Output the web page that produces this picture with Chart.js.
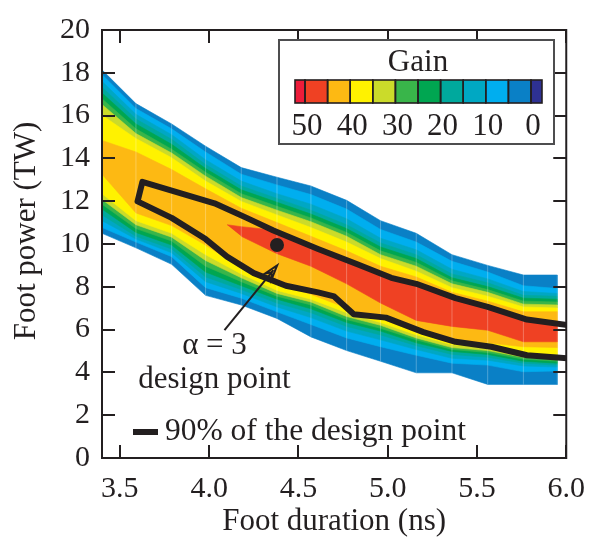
<!DOCTYPE html>
<html>
<head>
<meta charset="utf-8">
<script src="https://cdn.jsdelivr.net/npm/chart.js@4.4.0/dist/chart.umd.min.js"></script>
<style>
  html, body { margin: 0; padding: 0; background: #ffffff; }
  #wrap { width: 598px; height: 540px; }
</style>
</head>
<body>
<div id="wrap"><canvas id="gainMap" width="598" height="540"></canvas></div>
<script>
// Foot duration sample columns (ns)
const duration = [3.40, 3.59, 3.79, 3.98, 4.18, 4.38, 4.57, 4.77, 4.96, 5.16, 5.36, 5.56, 5.76, 5.95];

// Gain contour levels; each row of bandTop / bandBottom gives, per column,
// the upper and lower foot power (TW) of the region where gain >= level.
const gainLevels = [0, 5, 10, 15, 20, 25, 30, 35, 40, 45];
const levelColors = ['#0A80C6', '#00AEEF', '#00A7C4', '#00A99D', '#00A651',
                     '#39B54A', '#CBDB2A', '#FFF200', '#FDB913', '#EF4123'];

const bandTop = [
  [18.14, 16.56, 15.61, 14.57, 13.57, 13.12, 12.71, 12.04, 11.09, 10.50, 9.50, 9.00, 8.55, 8.55],
  [17.92, 16.33, 15.38, 14.30, 13.26, 12.76, 12.31, 11.63, 10.68, 10.09, 9.19, 8.69, 8.05, 7.92],
  [17.60, 16.06, 15.11, 13.94, 12.94, 12.35, 11.86, 11.18, 10.27, 9.73, 8.82, 8.37, 7.78, 7.69],
  [17.33, 15.84, 14.89, 13.71, 12.71, 12.13, 11.58, 10.90, 10.05, 9.50, 8.60, 8.19, 7.60, 7.56],
  [17.06, 15.61, 14.66, 13.53, 12.53, 11.95, 11.40, 10.72, 9.86, 9.32, 8.42, 8.01, 7.47, 7.42],
  [16.79, 15.38, 14.43, 13.35, 12.35, 11.76, 11.22, 10.54, 9.68, 9.14, 8.28, 7.87, 7.33, 7.29],
  [16.52, 15.16, 14.25, 13.17, 12.17, 11.58, 11.04, 10.36, 9.50, 8.96, 8.14, 7.74, 7.19, 7.15],
  [16.02, 14.93, 14.03, 12.94, 11.99, 11.36, 10.77, 10.09, 9.32, 8.73, 7.96, 7.56, 7.06, 7.01],
  [14.84, 14.30, 13.48, 12.58, 11.67, 11.00, 10.36, 9.68, 8.96, 8.46, 7.74, 7.33, 6.83, 6.83],
  [null, null, null, null, 10.81, 10.63, 9.86, 9.23, 8.60, 8.14, 7.51, 7.06, 6.47, 6.15]
];
const bandBottom = [
  [10.50, 9.82, 9.05, 7.60, 7.15, 6.52, 5.66, 5.02, 4.52, 3.98, 3.98, 3.44, 3.44, 3.44],
  [10.77, 10.09, 9.41, 7.96, 7.47, 6.83, 6.24, 5.61, 5.20, 4.80, 4.43, 4.34, 4.03, 4.07],
  [11.09, 10.23, 9.59, 8.24, 7.69, 7.06, 6.56, 5.93, 5.52, 5.07, 4.66, 4.57, 4.30, 4.25],
  [11.36, 10.36, 9.77, 8.46, 7.87, 7.24, 6.79, 6.15, 5.75, 5.25, 4.84, 4.71, 4.43, 4.34],
  [11.63, 10.54, 9.95, 8.69, 8.05, 7.42, 6.97, 6.33, 5.93, 5.38, 4.98, 4.84, 4.52, 4.43],
  [11.86, 10.72, 10.14, 8.96, 8.24, 7.56, 7.15, 6.47, 6.06, 5.52, 5.07, 4.93, 4.62, 4.52],
  [12.08, 10.90, 10.32, 9.23, 8.42, 7.69, 7.29, 6.61, 6.20, 5.61, 5.16, 5.02, 4.71, 4.62],
  [12.35, 11.09, 10.50, 9.50, 8.60, 7.83, 7.42, 6.79, 6.33, 5.75, 5.29, 5.16, 4.89, 4.84],
  [13.26, 11.45, 10.86, 9.95, 8.87, 8.19, 7.65, 7.01, 6.52, 5.88, 5.43, 5.38, 5.20, 5.16],
  [null, null, null, null, 10.36, 9.55, 8.96, 8.14, 7.24, 6.43, 6.15, 5.97, 5.43, 5.43]
];
// left tip of the highest gain region (duration, power)
const peakTip = [4.10, 10.90];

// 90% of the design-point gain contour
const contourDur = [6.02, 5.78, 5.56, 5.38, 5.16, 5.02, 4.83, 4.61, 4.36, 4.21, 4.03, 3.626,
                    3.599, 3.79, 3.98, 4.10, 4.25, 4.43, 4.61, 4.70, 4.81, 4.99, 5.20, 5.38, 5.58, 5.78, 6.02];
const contourPow = [6.20, 6.47, 7.06, 7.47, 8.14, 8.42, 9.05, 9.77, 10.63, 11.22, 11.90, 12.90,
                    11.99, 11.22, 10.23, 9.41, 8.64, 8.05, 7.74, 7.55, 6.72, 6.56, 5.88, 5.43, 5.20, 4.80, 4.65];

// alpha = 3 design point (duration, power)
const designPoint = [4.38, 9.95];

const xTicks = [3.5, 4.0, 4.5, 5.0, 5.5, 6.0];
const xTickLabels = ['3.5', '4.0', '4.5', '5.0', '5.5', '6.0'];
const yTicks = [0, 2, 4, 6, 8, 10, 12, 14, 16, 18, 20];
const yTickLabels = ['0', '2', '4', '6', '8', '10', '12', '14', '16', '18', '20'];

// colour key, from highest gain to lowest
const keyColors = ['#ED1C3A', '#EF4123', '#FDB913', '#FFF200', '#CBDB2A', '#39B54A',
                   '#00A651', '#00A99D', '#00A8C3', '#00AEEF', '#0A80C6', '#2E3192'];
const keyLabels = ['50', '40', '30', '20', '10', '0'];

const ink = '#231F20';
const serif = '"Liberation Serif", "Times New Roman", serif';

// closed outline of each gain region
const bandDatasets = gainLevels.map((level, i) => {
  const top = [];
  const bottom = [];
  duration.forEach((d, j) => {
    if (bandTop[i][j] !== null) top.push({ x: d, y: bandTop[i][j] });
    if (bandBottom[i][j] !== null) bottom.push({ x: d, y: bandBottom[i][j] });
  });
  const pts = [];
  if (i === gainLevels.length - 1) pts.push({ x: peakTip[0], y: peakTip[1] });
  pts.push(...top, ...bottom.reverse());
  return {
    label: 'gain ≥ ' + level,
    data: pts,
    fill: 'shape',
    backgroundColor: levelColors[i],
    borderColor: levelColors[i],
    borderWidth: 0.6,
    pointRadius: 0,
    tension: 0,
    order: 100 - i
  };
});

// faint sampling-mesh lines along each duration column
const meshDatasets = duration.slice(1).map((d, k) => ({
  label: 'mesh ' + d,
  data: [{ x: d, y: bandBottom[0][k + 1] }, { x: d, y: bandTop[0][k + 1] }],
  fill: false,
  borderColor: 'rgba(255,255,255,0.28)',
  borderWidth: 1,
  pointRadius: 0,
  order: 50
}));

const contourDataset = {
  label: '90% of the design point',
  data: contourDur.map((d, i) => ({ x: d, y: contourPow[i] })),
  fill: false,
  borderColor: ink,
  borderWidth: 6,
  borderJoinStyle: 'round',
  borderCapStyle: 'round',
  pointRadius: 0,
  tension: 0,
  order: 2
};

const designDataset = {
  label: 'design point',
  data: [{ x: designPoint[0], y: designPoint[1] }],
  showLine: false,
  pointRadius: 7,
  pointBackgroundColor: ink,
  pointBorderWidth: 0,
  order: 1
};

function text(ctx, str, x, y, size, align) {
  ctx.font = size + 'px ' + serif;
  ctx.fillStyle = ink;
  ctx.textAlign = align || 'center';
  ctx.textBaseline = 'middle';
  ctx.fillText(str, x, y);
}

const decor = {
  id: 'decor',
  afterDatasetsDraw(chart) {
    const { ctx, chartArea: a, scales: { x, y } } = chart;
    ctx.save();
    ctx.strokeStyle = ink;
    ctx.lineCap = 'butt';

    // arrow to the design point
    const x0 = x.getPixelForValue(4.086), y0 = y.getPixelForValue(5.97);
    const x1 = x.getPixelForValue(4.381), y1 = y.getPixelForValue(9.0);
    const ang = Math.atan2(y1 - y0, x1 - x0);
    ctx.lineWidth = 2;
    ctx.beginPath();
    ctx.moveTo(x0, y0);
    ctx.lineTo(x1 - 6 * Math.cos(ang), y1 - 6 * Math.sin(ang));
    ctx.stroke();
    const hl = 15, hw = 0.3;
    ctx.beginPath();
    ctx.moveTo(x1 - hl * Math.cos(ang - hw), y1 - hl * Math.sin(ang - hw));
    ctx.lineTo(x1, y1);
    ctx.lineTo(x1 - hl * Math.cos(ang + hw), y1 - hl * Math.sin(ang + hw));
    ctx.lineTo(x1 - 9 * Math.cos(ang), y1 - 9 * Math.sin(ang));
    ctx.closePath();
    ctx.stroke();

    // frame
    ctx.lineWidth = 2;
    ctx.strokeRect(a.left, a.top, a.right - a.left, a.bottom - a.top);
    // inward ticks on all four sides
    const tl = 13;
    ctx.beginPath();
    xTicks.forEach(v => {
      const px = Math.round(x.getPixelForValue(v));
      ctx.moveTo(px, a.bottom); ctx.lineTo(px, a.bottom - tl);
      ctx.moveTo(px, a.top); ctx.lineTo(px, a.top + tl);
    });
    yTicks.forEach(v => {
      const py = Math.round(y.getPixelForValue(v));
      ctx.moveTo(a.left, py); ctx.lineTo(a.left + tl, py);
      ctx.moveTo(a.right, py); ctx.lineTo(a.right - tl, py);
    });
    ctx.stroke();
    ctx.restore();
  },
  afterDraw(chart) {
    const { ctx, chartArea: a, scales: { x, y } } = chart;
    ctx.save();

    // axis titles
    text(ctx, 'Foot duration (ns)', (a.left + a.right) / 2, 522, 31);
    ctx.save();
    ctx.translate(27, 231);
    ctx.rotate(-Math.PI / 2);
    text(ctx, 'Foot power (TW)', 0, 0, 31);
    ctx.restore();

    // design point annotation
    text(ctx, 'α = 3', x.getPixelForValue(4.03), y.getPixelForValue(5.25), 31);
    text(ctx, 'design point', x.getPixelForValue(4.03), y.getPixelForValue(3.67), 31);

    // contour key
    ctx.strokeStyle = ink;
    ctx.lineWidth = 6;
    ctx.beginPath();
    ctx.moveTo(133, 432); ctx.lineTo(158, 432);
    ctx.stroke();
    text(ctx, '90% of the design point', 165, 432, 31.5, 'left');

    // gain colour key
    ctx.fillStyle = '#ffffff';
    ctx.fillRect(279, 40, 275, 104);
    ctx.strokeStyle = '#4D4D4F';
    ctx.lineWidth = 2;
    ctx.strokeRect(279, 40, 275, 104);
    text(ctx, 'Gain', 418, 63, 31);
    const kTop = 80, kH = 23, step = 22.6, first = 305;
    const edges = [295];
    for (let k = 0; k <= 10; k++) edges.push(first + k * step);
    edges.push(542);
    for (let k = 0; k < keyColors.length; k++) {
      ctx.fillStyle = keyColors[k];
      ctx.fillRect(edges[k], kTop, edges[k + 1] - edges[k], kH);
    }
    ctx.strokeStyle = ink;
    ctx.lineWidth = 1.6;
    for (let k = 0; k < keyColors.length; k++) {
      ctx.strokeRect(edges[k], kTop, edges[k + 1] - edges[k], kH);
    }
    keyLabels.forEach((lab, i) => text(ctx, lab, first + 2 * i * step + 2, 127, 31));
    ctx.restore();
  }
};

new Chart(document.getElementById('gainMap'), {
  type: 'line',
  data: { datasets: [designDataset, contourDataset, ...meshDatasets, ...bandDatasets] },
  options: {
    responsive: false,
    animation: false,
    devicePixelRatio: 1,
    layout: { padding: { top: 16, right: 21, left: 0, bottom: 0 } },
    plugins: { legend: { display: false }, tooltip: { enabled: false } },
    scales: {
      x: {
        type: 'linear', min: 3.4, max: 6.0,
        afterFit(s) { s.height = 82; },
        afterBuildTicks(s) { s.ticks = xTicks.map(v => ({ value: v })); },
        ticks: {
          font: { family: serif, size: 30 }, color: ink, padding: 13,
          maxRotation: 0, autoSkip: false,
          callback: (v, i) => xTickLabels[i]
        },
        grid: { display: false, drawTicks: false },
        border: { display: false }
      },
      y: {
        type: 'linear', min: 0, max: 20,
        afterFit(s) { s.width = 102; },
        afterBuildTicks(s) { s.ticks = yTicks.map(v => ({ value: v })); },
        ticks: {
          font: { family: serif, size: 30 }, color: ink, padding: 12,
          autoSkip: false,
          callback: (v, i) => yTickLabels[i]
        },
        grid: { display: false, drawTicks: false },
        border: { display: false }
      }
    }
  },
  plugins: [decor]
});
</script>
</body>
</html>
